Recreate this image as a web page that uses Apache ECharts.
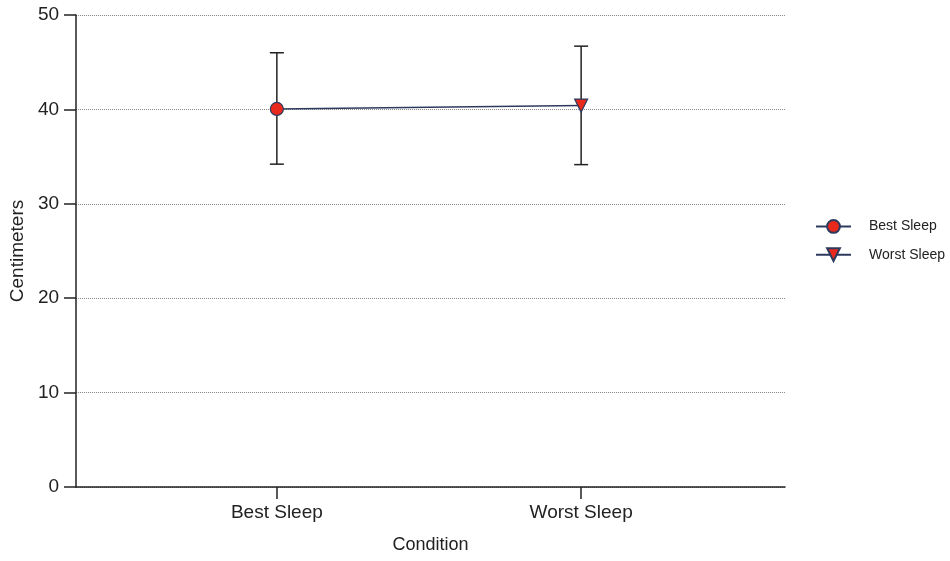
<!DOCTYPE html>
<html>
<head>
<meta charset="utf-8">
<script src="https://cdn.jsdelivr.net/npm/echarts@6/dist/echarts.min.js"></script>
<style>html,body{margin:0;padding:0;background:#fff;overflow:hidden}#c{width:950px;height:561px}</style>
</head>
<body>
<div id="c"></div>
<script>
var categories = ['Best Sleep', 'Worst Sleep'];
var means = [40.05, 40.4];
var upper = [46.0, 46.7];
var lower = [34.2, 34.15];
var yTicks = [0, 10, 20, 30, 40, 50];

var chart = echarts.init(document.getElementById('c'));
var font = 'Liberation Sans, Arial, sans-serif';
var navy = '#2d3a5e';
var red = '#e8291c';

var errData = categories.map(function (c, i) { return [i + 1, lower[i], upper[i]]; });

var option = {
  animation: false,
  backgroundColor: '#fff',
  textStyle: { fontFamily: font },
  grid: { left: 75, width: 710, top: 15, height: 472, containLabel: false },
  legend: {
    orient: 'vertical',
    left: 810, top: 214,
    itemGap: 13.5,
    itemWidth: 35, itemHeight: 16,
    data: categories,
    textStyle: { fontFamily: font, fontSize: 14, color: '#222', padding: [0, 0, 0, 13] }
  },
  xAxis: {
    type: 'value',
    min: 0.34, max: 2.67,
    name: 'Condition', nameLocation: 'middle', nameGap: 49,
    nameTextStyle: { fontFamily: font, fontSize: 18, color: '#222' },
    axisLine: { lineStyle: { color: '#222', width: 1.5 } },
    axisTick: { show: true, length: 12, customValues: [1, 2], lineStyle: { color: '#222', width: 1.5 } },
    axisLabel: { customValues: [1, 2], margin: 16, fontSize: 19, color: '#222', fontFamily: font,
      formatter: function (v) { return categories[Math.round(v) - 1] || ''; } },
    splitLine: { show: false }
  },
  yAxis: {
    type: 'value',
    min: yTicks[0], max: yTicks[yTicks.length - 1], interval: 10,
    name: 'Centimeters', nameLocation: 'middle', nameGap: 48,
    nameTextStyle: { fontFamily: font, fontSize: 19, color: '#222' },
    axisLine: { show: true, lineStyle: { color: '#222', width: 1.5 } },
    axisTick: { show: true, length: 12, lineStyle: { color: '#222', width: 1.5 } },
    axisLabel: { margin: 17, fontSize: 19, color: '#222', fontFamily: font },
    splitLine: { show: true, lineStyle: { color: '#888', type: [1, 1], width: 1 } }
  },
  series: [
    {
      name: 'connect', type: 'line', silent: true, symbol: 'none',
      data: categories.map(function (c, i) { return [i + 1, means[i]]; }),
      lineStyle: { color: navy, width: 1.5 }, z: 2
    },
    {
      name: 'err', type: 'custom', silent: true, z: 1,
      data: errData,
      renderItem: function (params, api) {
        var x = api.value(0);
        var lo = api.coord([x, api.value(1)]);
        var hi = api.coord([x, api.value(2)]);
        var w = 7;
        var st = { stroke: '#222', lineWidth: 1.5 };
        return { type: 'group', children: [
          { type: 'line', shape: { x1: lo[0], y1: lo[1], x2: hi[0], y2: hi[1] }, style: st },
          { type: 'line', shape: { x1: lo[0] - w, y1: lo[1], x2: lo[0] + w, y2: lo[1] }, style: st },
          { type: 'line', shape: { x1: hi[0] - w, y1: hi[1], x2: hi[0] + w, y2: hi[1] }, style: st }
        ] };
      }
    },
    {
      name: categories[0], type: 'line', symbol: 'circle', symbolSize: 13,
      data: [[1, means[0]]],
      itemStyle: { color: red, borderColor: navy, borderWidth: 1.2 },
      lineStyle: { color: navy, width: 1.5 }, z: 5
    },
    {
      name: categories[1], type: 'line', symbol: 'triangle', symbolSize: 13, symbolRotate: 180,
      data: [[2, means[1]]],
      itemStyle: { color: red, borderColor: navy, borderWidth: 1.2 },
      lineStyle: { color: navy, width: 1.5 }, z: 5
    }
  ]
};
chart.setOption(option);
</script>
</body>
</html>
